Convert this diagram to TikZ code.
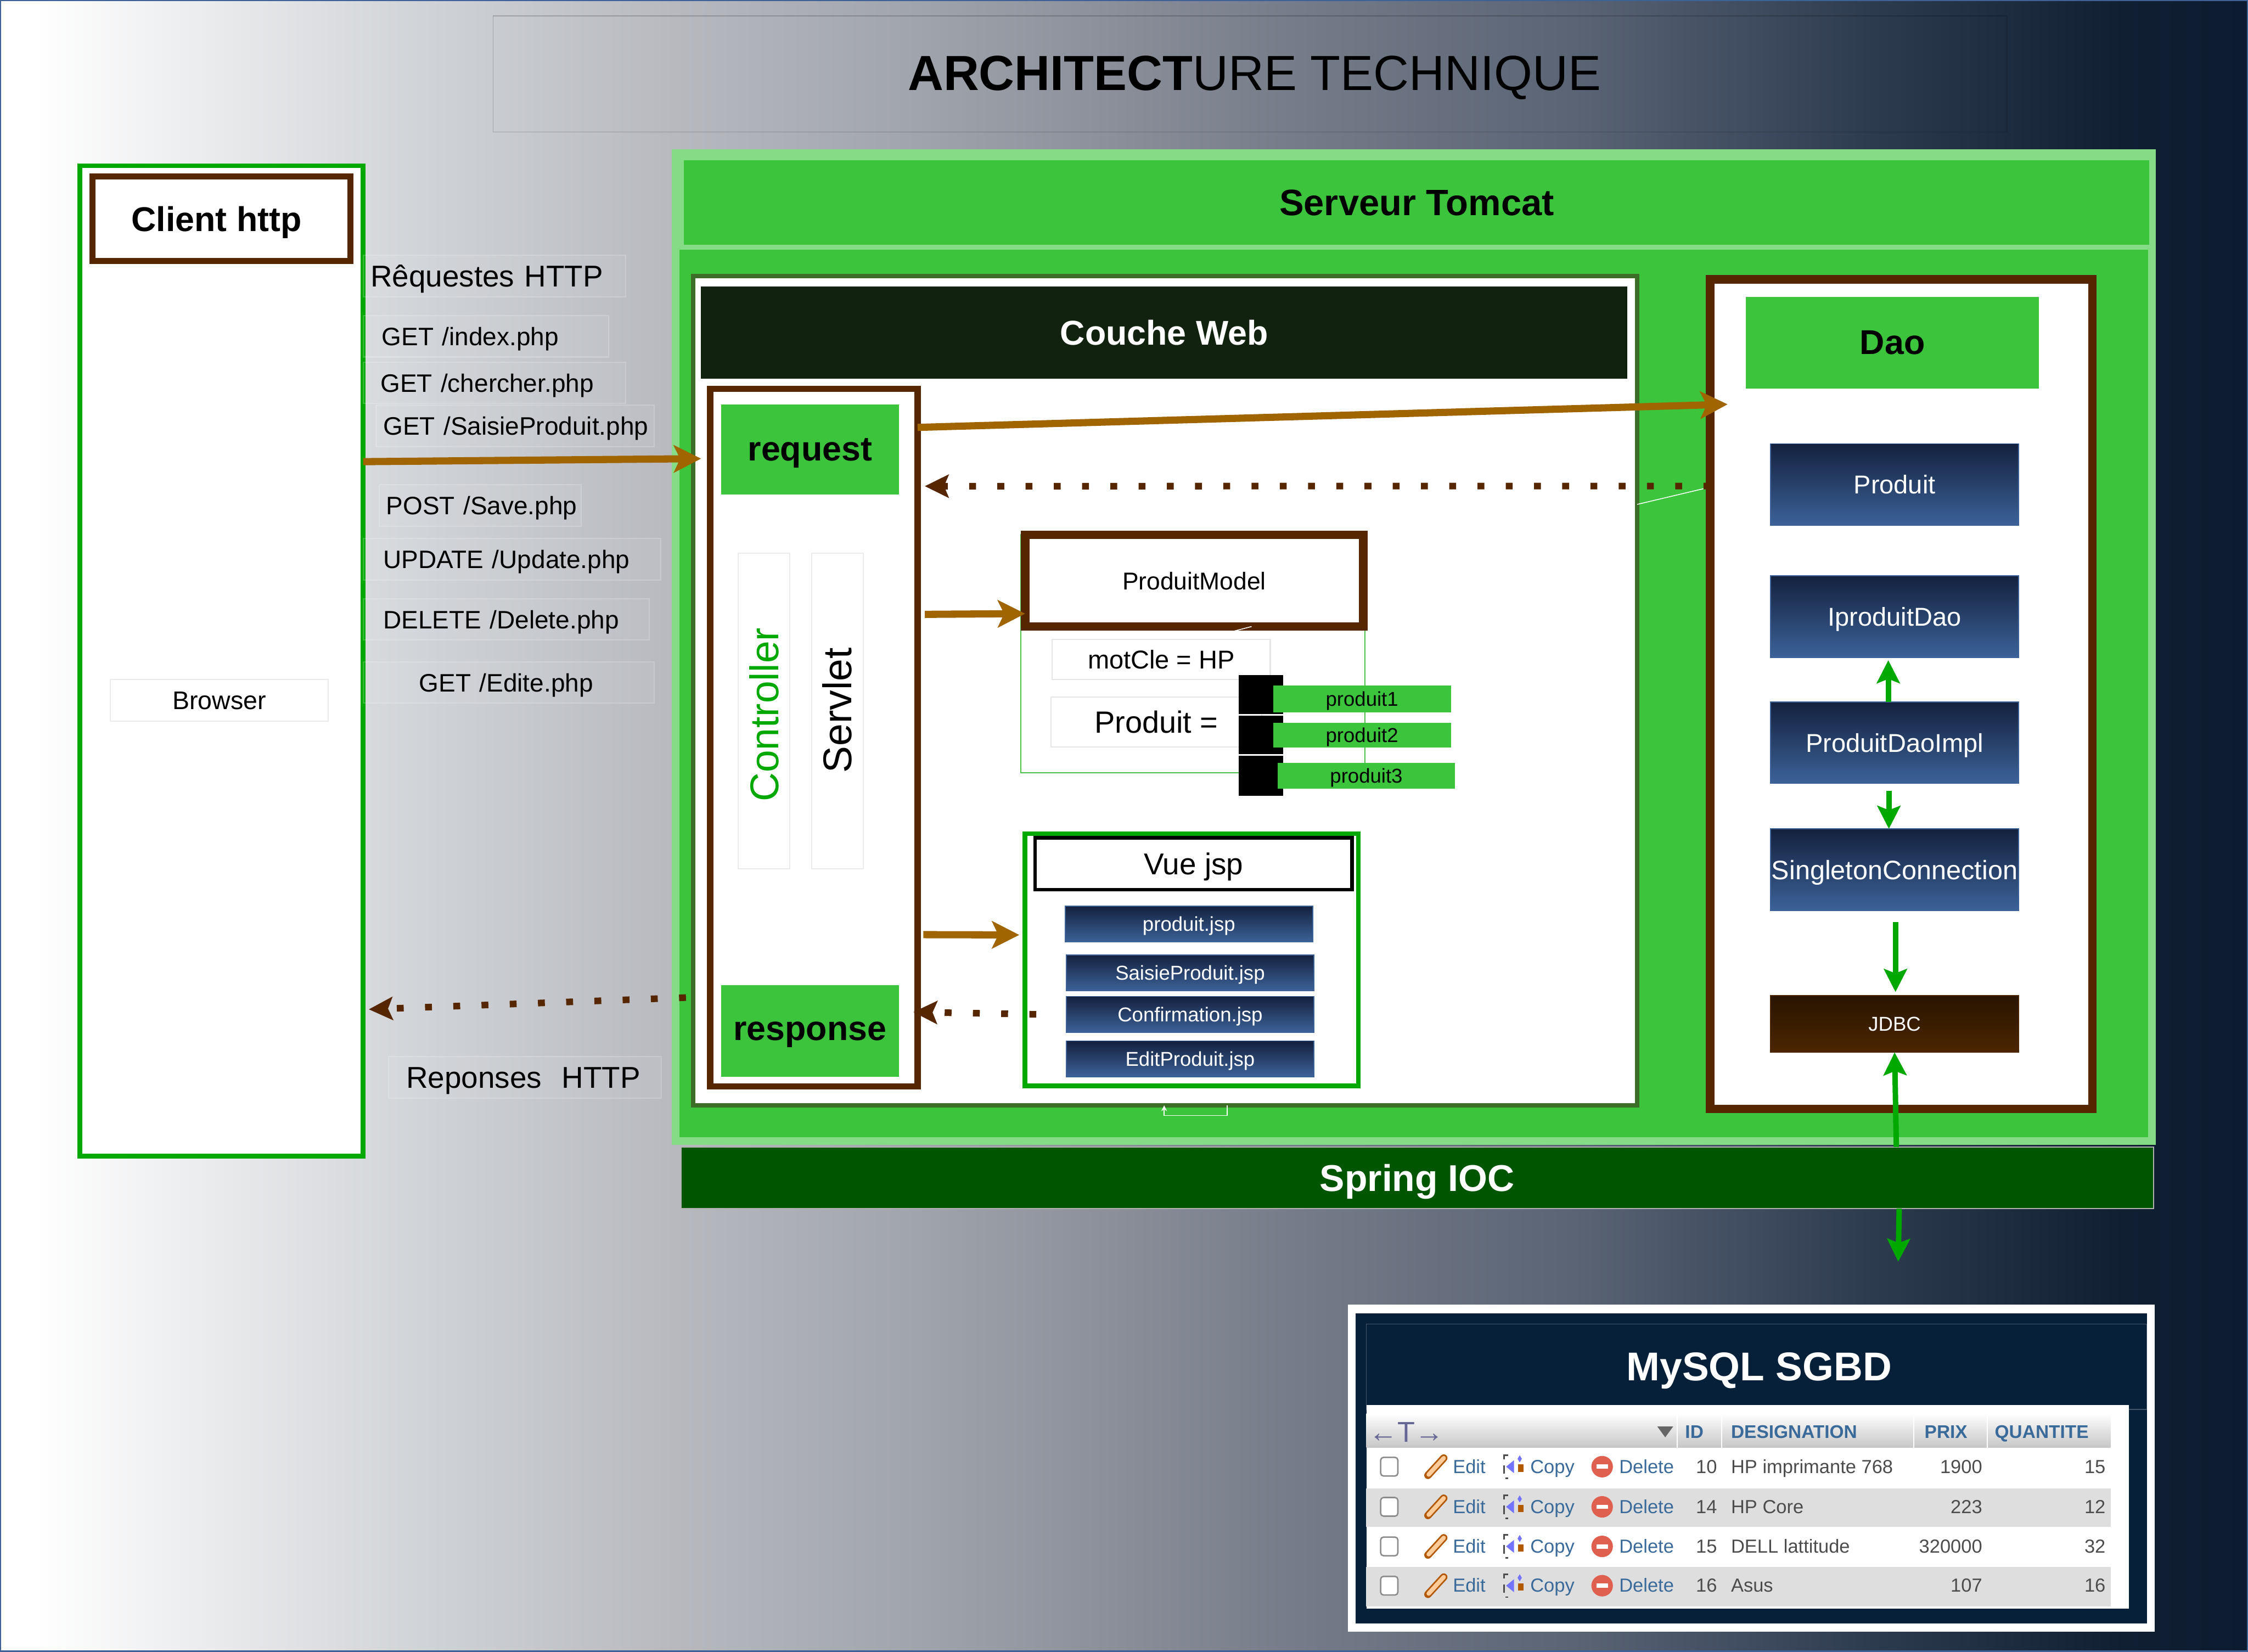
\documentclass[tikz,border=0pt]{standalone}
\usepackage{fontspec}
\setmainfont{Liberation Sans}
\usepackage{tikz}
\usetikzlibrary{positioning,arrows.meta}
\definecolor{ServerGreen}{RGB}{60,196,60}
\definecolor{RimGreen}{RGB}{134,220,134}
\definecolor{WebGreen}{RGB}{61,110,39}
\definecolor{WebDark}{RGB}{17,34,15}
\definecolor{SpringGreen}{RGB}{0,85,0}
\definecolor{LineGreen}{RGB}{0,168,0}
\definecolor{FrameBrown}{RGB}{85,38,0}
\definecolor{ArrowBrown}{RGB}{160,100,0}
\definecolor{JspTop}{RGB}{20,33,62}
\definecolor{JspBottom}{RGB}{60,98,152}
\definecolor{JdbcTop}{RGB}{40,20,0}
\definecolor{JdbcBottom}{RGB}{76,38,0}
\definecolor{DbNavy}{RGB}{7,32,57}
\definecolor{LinkBlue}{RGB}{58,106,154}
\definecolor{RowGray}{RGB}{222,222,222}
\definecolor{DelRed}{RGB}{224,96,80}
\definecolor{BgA}{RGB}{207,210,214}
\definecolor{BgB}{RGB}{183,185,191}
\definecolor{BgC}{RGB}{160,164,172}
\definecolor{BgD}{RGB}{118,124,137}
\definecolor{BgE}{RGB}{90,100,117}
\definecolor{BgF}{RGB}{46,60,80}
\definecolor{BgH}{RGB}{17,31,51}
\definecolor{BgG}{RGB}{12,27,47}
\newcommand{\fs}[1]{\fontsize{#1}{#1}\selectfont}
\pgfdeclarehorizontalshading{bgshade}{100bp}{
  color(0bp)=(white); color(25.77bp)=(white);
  color(34.6bp)=(BgA); color(40bp)=(BgB); color(45.4bp)=(BgC);
  color(53.7bp)=(BgD); color(60bp)=(BgE); color(66.5bp)=(BgF);
  color(72.2bp)=(BgH); color(75bp)=(BgG); color(100bp)=(BgG)}
\tikzset{
  sz/.style 2 args={minimum width=#1*0.5pt,minimum height=#2*0.5pt,inner sep=0pt,outer sep=0pt,text depth=0pt},
  greenbox/.style={fill=ServerGreen,font=\fs{12}\bfseries},
  brownframe/.style={draw=FrameBrown,fill=white},
  greenframe/.style={draw=LineGreen,fill=white},
  faintbox/.style={draw=white,draw opacity=0.2,fill=white,fill opacity=0.06,text opacity=1},
  reqbox/.style 2 args={faintbox,anchor=west,text width=(#1-2*#2)*0.5pt,inner xsep=#2*0.5pt,inner ysep=0pt,minimum height=14.5pt,text depth=0pt,align=left,font=\fs{8.8}},
  sidebox/.style={draw=black!8,fill=white,font=\fs{14}},
  bluebox/.style={top color=JspTop,bottom color=JspBottom,draw=JspBottom,line width=0.3pt,text=white},
  prodbox/.style={fill=ServerGreen,font=\fs{7}},
  blackblock/.style={fill=black},
  brownarrow/.style={-{Stealth[length=9.5pt,width=9.5pt,inset=2.2pt]},line width=2.5pt,draw=ArrowBrown},
  dotarrow/.style={-{Stealth[length=8.3pt,width=8pt,inset=1.6pt]},line width=2.3pt,draw=FrameBrown,dash pattern=on 2.4pt off 7.45pt},
  greenarrow/.style={-{Stealth[length=8pt,width=8pt,inset=1.5pt]},line width=1.9pt,draw=LineGreen},
  thinline/.style={draw=white,line width=0.3pt},
  headtext/.style={text=LinkBlue,font=\fs{6.4}\bfseries,inner sep=0pt},
  celltext/.style={text=black!70,font=\fs{6.6},inner sep=0pt},
  linktext/.style={text=LinkBlue,font=\fs{6.6},inner sep=0pt},
}
\begin{document}
\begin{tikzpicture}[x=0.5pt,y=-0.5pt]
  \useasboundingbox (0,0) rectangle (1568,1152);
  \shade[shading=bgshade,draw=JspBottom,line width=0.8pt] (0,0) rectangle (1568,1152);

  % titre
  \node[sz={1056}{81},draw=black,draw opacity=0.2,line width=0.3pt] (titlebox) at (872,51.5) {};
  \node[inner sep=0pt,text depth=0pt,font=\fs{17.2}] (title) at (875,51) {\textbf{ARCHITECT}URE TECHNIQUE};

  % client
  \node[sz={197.5}{690.8},greenframe,line width=1.7pt] (client) at (154.5,461) {};
  \node[sz={179.7}{59},brownframe,line width=2.1pt,font=\fs{12}\bfseries] (clienthead) at (154.5,152.5) {Client http\kern3.5pt};
  \node[sz={152}{29},draw=black!8,fill=white,font=\fs{8.9}] (browser) at (153,488.5) {Browser};

  \node[reqbox={183}{5},font=\fs{10.5}] (reqtitle) at (253,192.5) {\mbox{Rêquestes HTTP}};
  \node[reqbox={171}{13}] (getindex) at (253,234.5) {\mbox{GET /index.php}};
  \node[reqbox={183}{12}] (getsearch) at (253,267) {\mbox{GET /chercher.php}};
  \node[reqbox={194}{5}] (getsaisie) at (262,297) {\mbox{GET /SaisieProduit.php}};
  \node[reqbox={141}{5}] (postsave) at (264,352.5) {\mbox{POST /Save.php}};
  \node[reqbox={207.5}{14}] (putupdate) at (253,390) {\mbox{UPDATE /Update.php}};
  \node[reqbox={199.6}{14}] (deldelete) at (253,432) {\mbox{DELETE /Delete.php}};
  \node[reqbox={203}{39}] (getedite) at (253,476) {\mbox{GET /Edite.php}};
  \node[reqbox={190.4}{12.4},font=\fs{10.5}] (resptitle) at (270.6,751.5) {\mbox{Reponses\ \ HTTP}};

  % serveur
  \node[sz={1029.7}{689},fill=ServerGreen,draw=RimGreen,line width=2.7pt] (server) at (986.2,451.5) {};
  \node[sz={1025.5}{62.5},fill=ServerGreen,draw=RimGreen,line width=1.7pt,font=\fs{12.8}\bfseries] (serverhead) at (988.2,141.2) {Serveur Tomcat};
  \node[sz={1027}{43},fill=SpringGreen,draw=black!30,line width=0.4pt,text=white,font=\fs{13}\bfseries] (spring) at (988.5,821.5) {Spring IOC};

  % couche web
  \node[sz={658.5}{578.3},draw=WebGreen,fill=white,line width=1.6pt] (web) at (812.7,481.8) {};
  \node[sz={646}{64},fill=WebDark,text=white,font=\fs{12}\bfseries] (webhead) at (812,232) {Couche Web};

  % controller
  \node[sz={144.7}{486.4},brownframe,line width=2.2pt] (ctrl) at (567.7,514.5) {};
  \node[sz={124}{63},greenbox] (request) at (565,313.5) {request};
  \node[sz={124}{64},greenbox] (response) at (565,719) {response};
  \node[sz={36}{220},sidebox] (ctrlbox) at (533,496) {};
  \node[inner sep=0pt,rotate=90,text=LineGreen,font=\fs{14}] (ctrltext) at (533,498.5) {Controller};
  \node[sz={36}{220},sidebox] (servletbox) at (584,496) {};
  \node[inner sep=0pt,rotate=90,font=\fs{14}] (servlettext) at (584,495.5) {Servlet};

  % modele
  \node[sz={240}{166},draw=LineGreen!70,line width=0.4pt] (modelarea) at (832,456) {};
  \node[sz={236}{64},brownframe,line width=3pt,font=\fs{8.5}] (model) at (833,405) {ProduitModel};
  \node[sz={152}{28},draw=black!10,fill=white,font=\fs{9}] (motcle) at (810,460) {motCle = HP};
  \node[sz={147}{35},draw=black!10,fill=white,font=\fs{10.7}] (produiteq) at (806.5,503.5) {Produit =};
  \node[sz={31}{27},blackblock] (blocka) at (879.5,484.5) {};
  \node[sz={31}{27},blackblock] (blockb) at (879.5,512.5) {};
  \node[sz={31}{28},blackblock] (blockc) at (879.5,541) {};
  \node[sz={124}{19},prodbox] (produita) at (950,487.5) {produit1};
  \node[sz={124}{17.5},prodbox] (produitb) at (950,512.8) {produit2};
  \node[sz={124}{18},prodbox] (produitc) at (953,541) {produit3};

  % vues
  \node[sz={232.5}{176},greenframe,line width=1.7pt] (vue) at (831.2,669.5) {};
  \node[sz={221}{36},draw=black,fill=white,line width=1.3pt,font=\fs{10.5}] (vuehead) at (832.5,602.5) {Vue jsp};
  \node[sz={172.6}{25},bluebox,font=\fs{7}] (jspa) at (829.3,644.5) {produit.jsp};
  \node[sz={172.6}{25},bluebox,font=\fs{7},below=4.5pt of jspa,xshift=0.4pt] (jspb) {SaisieProduit.jsp};
  \node[sz={172.6}{25},bluebox,font=\fs{7},below=2pt of jspb] (jspc) {Confirmation.jsp};
  \node[sz={172.6}{25},bluebox,font=\fs{7},below=3pt of jspc] (jspd) {EditProduit.jsp};

  % dao
  \node[sz={266.5}{578.5},brownframe,line width=3pt] (dao) at (1326.2,484.2) {};
  \node[sz={204.4}{64},greenbox] (daohead) at (1320,239) {Dao};
  \node[sz={173}{57},bluebox,font=\fs{9}] (produit) at (1321.5,338) {Produit};
  \node[sz={173}{57},bluebox,font=\fs{9},below=17.5pt of produit] (iprodao) {IproduitDao};
  \node[sz={173}{57},bluebox,font=\fs{9},below=15.5pt of iprodao] (daoimpl) {ProduitDaoImpl};
  \node[sz={173}{57},bluebox,font=\fs{9.3},below=15.8pt of daoimpl] (singleton) {SingletonConnection};
  \node[sz={173}{39.5},top color=JdbcTop,bottom color=JdbcBottom,draw=JdbcBottom,line width=0.3pt,text=white,font=\fs{7},below=29.7pt of singleton] (jdbc) {JDBC};

  % connecteurs
  \coordinate (daoin) at (1205,282);
  \coordinate (lowend) at (1324,880);
  \coordinate (elbowin) at (856,771);
  \coordinate (elbowout) at (812,771);
  \draw[thinline] ([yshift=65pt]web.east) -- ([yshift=72pt,xshift=-1pt]dao.west);
  \draw[thinline] ([xshift=6.5pt,yshift=-3.5pt]model.south) -- ([xshift=20pt]model.south);
  \draw[thinline,-{Stealth[length=2pt,width=2pt]}] (elbowin) -- (856,778) -- (812,778) -- (elbowout);
  \draw[brownarrow] ([yshift=69.5pt]client.east) -- ([xshift=-7pt,yshift=-3.2pt]request.west);
  \draw[brownarrow] ([yshift=108.2pt]ctrl.east) -- (daoin);
  \draw[brownarrow] ([xshift=2.5pt,yshift=43pt]ctrl.east) -- ([yshift=-11.5pt]model.west);
  \draw[brownarrow] ([xshift=2pt,yshift=-68.7pt]ctrl.east) -- ([xshift=-2pt,yshift=8.7pt]vue.west);
  \draw[dotarrow] ([yshift=72.6pt]dao.west) -- ([xshift=2.5pt,yshift=87.7pt]ctrl.east);
  \draw[dotarrow] ([yshift=-107pt,xshift=-2.5pt]web.west) -- ([xshift=2pt,yshift=-121.5pt]client.east);
  \draw[dotarrow] ([xshift=-10.5pt]jspc.west) -- ([xshift=-1.5pt,yshift=-95.7pt]ctrl.east);
  \draw[greenarrow] ([xshift=-2.2pt]daoimpl.north) -- ([xshift=-2.2pt,yshift=-1pt]iprodao.south);
  \draw[greenarrow] ([xshift=-2pt,yshift=-2.5pt]daoimpl.south) -- ([xshift=-2pt]singleton.north);
  \draw[greenarrow] ([xshift=0.3pt,yshift=-4pt]singleton.south) -- ([xshift=0.3pt,yshift=1.3pt]jdbc.north);
  \draw[greenarrow] ([xshift=0.6pt]jdbc.south |- spring.north) -- (jdbc.south);
  \draw[greenarrow] ([xshift=1.6pt]jdbc.south |- spring.south) -- (lowend);

  % base
  \node[sz={563}{228},fill=white] (dbouter) at (1221.5,1024) {};
  \node[sz={552}{216.5},fill=DbNavy] (dbinner) at (1221.5,1024.2) {};
  \node[sz={544.5}{59.5},draw=white,draw opacity=0.25,line width=0.3pt] (dbtitle) at (1225.2,953.2) {};
  \node[inner sep=0pt,text depth=0pt,text=white,font=\fs{14}\bfseries] (dbtext) at (1227,953) {MySQL SGBD};
  \node[sz={532}{142},fill=white] (dbtable) at (1219,1051) {};
  \node[sz={519}{23.7},top color=white,bottom color=black!22] (dbhead) at (1212.5,997.8) {};
  \node[sz={519.5}{27},fill=RowGray] (rowb) at (1212.7,1051.5) {};
  \node[sz={519.5}{27.5},fill=RowGray] (rowd) at (1212.7,1106.8) {};
  \foreach \sx in {1170,1201,1335,1386}
    \draw[white,line width=0.4pt] (\sx,986) -- (\sx,1009.7);
  \node[inner sep=0pt,text depth=0pt,text=blue!30!black!60!white,font=\fs{10}] (dbarrows) at (981,999) {←T→};
  \fill[black!60] (1156,995) -- (1167,995) -- (1161.5,1002.5) -- cycle;
  \node[headtext,anchor=base west] (hid) at (1175,1003) {ID};
  \node[headtext,anchor=base west] (hdes) at (1207,1003) {DESIGNATION};
  \node[headtext,anchor=base west] (hprix) at (1342,1003) {PRIX};
  \node[headtext,anchor=base west] (hqte) at (1391,1003) {QUANTITE};
  \foreach \ry/\rid/\rdes/\rprix/\rqte in {1023/10/HP imprimante 768/1900/15,1051/14/HP Core/223/12,1078.6/15/DELL lattitude/320000/32,1106/16/Asus/107/16}{
    \draw[black!45,fill=white,line width=0.5pt,rounded corners=1pt] (963,\ry-6.5) rectangle (975,\ry+6.5);
    \draw[line width=2.6pt,draw=orange!70!black,line cap=round] (996,\ry+6) -- (1007,\ry-6);
    \draw[line width=1.5pt,draw=orange!40,line cap=round] (996.5,\ry+5.5) -- (1007,\ry-6);
    \draw[black!70,line width=0.5pt,densely dashed] (1052,\ry-8) -- (1049,\ry-8) -- (1049,\ry+8) -- (1052,\ry+8);
    \fill[blue!55!white] (1050.5,\ry) -- (1056,\ry-4.5) -- (1056,\ry+4.5) -- cycle;
    \fill[blue!55!white] (1060,\ry-8) -- (1061.5,\ry-5.5) -- (1060,\ry-3) -- (1058.5,\ry-5.5) -- cycle;
    \fill[orange!70!black] (1059,\ry-1.5) rectangle (1062.5,\ry+3.5);
    \fill[DelRed] (1117.5,\ry) circle [radius=7.5];
    \fill[white] (1113.5,\ry-1.5) rectangle (1121.5,\ry+1.5);
    \node[linktext,anchor=base west] (edit\rid) at (1013,\ry+4.5) {Edit};
    \node[linktext,anchor=base west] (copy\rid) at (1067,\ry+4.5) {Copy};
    \node[linktext,anchor=base west] (del\rid) at (1129,\ry+4.5) {Delete};
    \node[celltext,anchor=base east] (id\rid) at (1198,\ry+4.5) {\rid};
    \node[celltext,anchor=base west] (des\rid) at (1207,\ry+4.5) {\rdes};
    \node[celltext,anchor=base east] (prix\rid) at (1383,\ry+4.5) {\rprix};
    \node[celltext,anchor=base east] (qte\rid) at (1469,\ry+4.5) {\rqte};
  }
\end{tikzpicture}
\end{document}
